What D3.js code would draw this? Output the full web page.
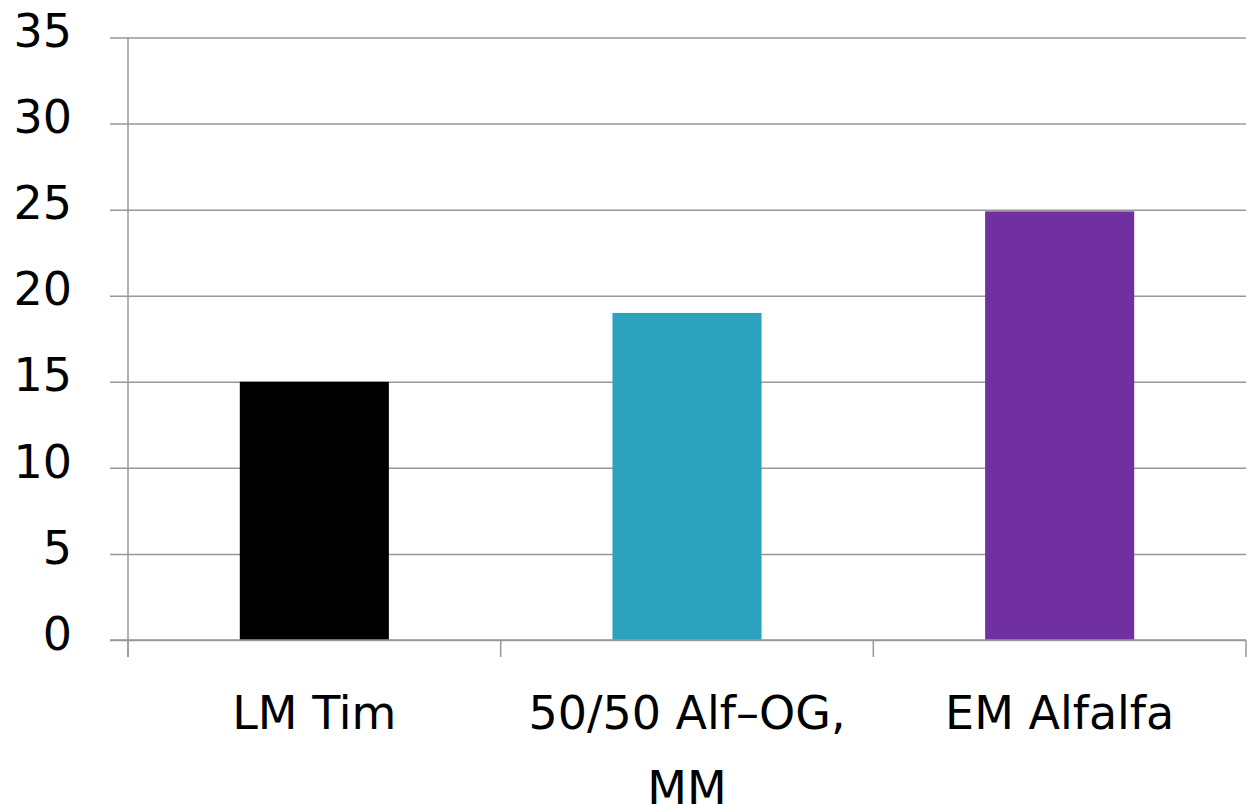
<!DOCTYPE html>
<html>
<head>
<meta charset="utf-8">
<script src="https://cdn.jsdelivr.net/npm/d3@7/dist/d3.min.js"></script>
<style>
  html, body { margin: 0; padding: 0; background: #ffffff; }
  svg { display: block; }
  text { font-family: "DejaVu Sans", Verdana, sans-serif; fill: #000; }
</style>
</head>
<body>
<svg id="chart" width="1253" height="804"></svg>
<script>
// Feed groups and their values
const categories = ["LM Tim", "50/50 Alf–OG, MM", "EM Alfalfa"];
const values = [15, 19, 24.9];
const barColors = ["#000000", "#2da2bf", "#7030a0"];
const yTicks = [0, 5, 10, 15, 20, 25, 30, 35];

const svg = d3.select("#chart");
const plotLeft = 128, plotRight = 1246, plotTop = 37.5, plotBottom = 640;
const gridColor = "#989898";

const x = d3.scaleBand()
  .domain(categories)
  .range([plotLeft, plotRight])
  .paddingInner(0.6)
  .paddingOuter(0.3);

const y = d3.scaleLinear().domain([0, 35]).range([plotBottom, plotTop]);

// Horizontal gridlines, extending a little left of the axis as tick marks
const grid = svg.append("g")
  .attr("transform", "translate(110,0)")
  .call(d3.axisRight(y).tickValues(yTicks).tickSize(plotRight - 110).tickFormat(""));
grid.select(".domain").remove();
grid.selectAll(".tick line").attr("stroke", gridColor).attr("stroke-width", 1.5);

// Y tick labels
const yLab = svg.append("g")
  .attr("transform", "translate(110,0)")
  .call(d3.axisLeft(y).tickValues(yTicks).tickSize(0).tickPadding(38));
yLab.select(".domain").remove();
yLab.selectAll(".tick text")
  .attr("font-size", 46)
  .attr("font-family", "DejaVu Sans, sans-serif")
  .attr("fill", "#000")
  .attr("dy", "0.2em");

// Bars
svg.append("g").selectAll("rect")
  .data(categories)
  .join("rect")
  .attr("x", d => x(d))
  .attr("width", x.bandwidth())
  .attr("y", (d, i) => y(values[i]))
  .attr("height", (d, i) => y(0) - y(values[i]))
  .attr("fill", (d, i) => barColors[i]);

// Vertical axis line
svg.append("line")
  .attr("x1", plotLeft).attr("x2", plotLeft)
  .attr("y1", y(35)).attr("y2", plotBottom + 17)
  .attr("stroke", gridColor).attr("stroke-width", 1.5);

// Zero baseline
svg.append("line")
  .attr("x1", 110).attr("x2", plotRight)
  .attr("y1", y(0)).attr("y2", y(0))
  .attr("stroke", gridColor).attr("stroke-width", 1.5);

// Category boundary ticks
const gap = x.step() - x.bandwidth();
const bounds = categories.map(c => x(c) - gap / 2).concat([plotRight]);
svg.append("g").selectAll("line")
  .data(bounds)
  .join("line")
  .attr("x1", d => d).attr("x2", d => d)
  .attr("y1", plotBottom).attr("y2", plotBottom + 17)
  .attr("stroke", gridColor).attr("stroke-width", 1.5);

// Category labels, wrapped to the band step
const xLab = svg.append("g").selectAll("text")
  .data(categories)
  .join("text")
  .attr("x", d => x(d) + x.bandwidth() / 2)
  .attr("y", 729)
  .attr("text-anchor", "middle")
  .attr("font-size", 46)
  .text(d => d);

xLab.each(function(d) {
  const t = d3.select(this);
  const words = d.split(" ");
  const cx = +t.attr("x");
  t.text(null);
  let line = [];
  let tspan = t.append("tspan").attr("x", cx);
  words.forEach(w => {
    line.push(w);
    tspan.text(line.join(" "));
    if (tspan.node().getComputedTextLength() > x.step() - 20 && line.length > 1) {
      line.pop();
      tspan.text(line.join(" "));
      line = [w];
      tspan = t.append("tspan").attr("x", cx).attr("dy", 75).text(w);
    }
  });
});
</script>
</body>
</html>
